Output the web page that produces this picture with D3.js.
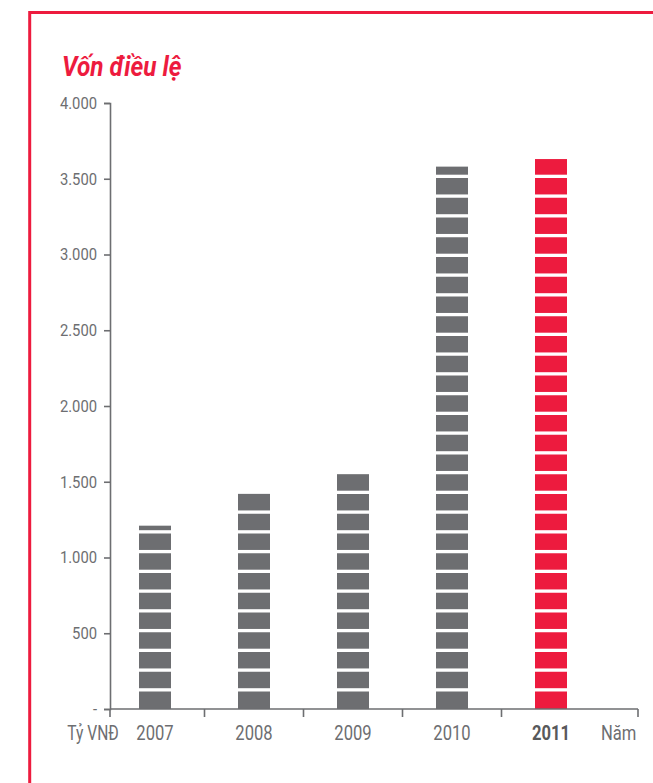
<!DOCTYPE html>
<html>
<head>
<meta charset="utf-8">
<script src="https://cdn.jsdelivr.net/npm/d3@7"></script>
<style>
  html, body { margin: 0; padding: 0; background: #fff; }
  svg { display: block; font-family: 'Roboto', 'Liberation Sans', sans-serif; }
</style>
</head>
<body>
<div id="chart"></div>
<script>
const years = ['2007', '2008', '2009', '2010', '2011'];
const capital = [1210, 1420, 1550, 3580, 3630];
const yTicks = [0, 500, 1000, 1500, 2000, 2500, 3000, 3500, 4000];
const highlightYear = '2011';

const width = 653,
  height = 783;
const red = '#ed1b3e',
  grey = '#6d6e71';

// squeeze a text horizontally around its anchor point (condensed look)
const condense = (sel, sx) =>
  sel.each(function () {
    const t = d3.select(this);
    const ax = +t.attr('x') || 0,
      ay = +t.attr('y') || 0;
    t.attr('transform', `translate(${ax},${ay}) scale(${sx},1) translate(${-ax},${-ay})`);
  });

const svg = d3
  .select('#chart')
  .append('svg')
  .attr('width', width)
  .attr('height', height);

// Frame line (left + top)
svg
  .append('path')
  .attr('d', `M29.7,${height + 5} L29.7,12.5 L${width + 5},12.5`)
  .attr('fill', 'none')
  .attr('stroke', red)
  .attr('stroke-width', 3);

svg
  .append('text')
  .attr('x', 62)
  .attr('y', 76)
  .attr('fill', red)
  .style('font-size', '28px')
  .style('font-weight', 'bold')
  .style('font-style', 'italic')
  .text('Vốn điều lệ')
  .call(condense, 0.87);

const x = d3.scaleBand().domain(years).range([105.5, 600.5]);
const y = d3.scaleLinear().domain([0, 4000]).range([709, 103]);

const vn = d3.formatLocale({ decimal: ',', thousands: '.', grouping: [3], currency: ['', ''] });
const fmt = vn.format(',');

// Y axis
const yAxis = svg
  .append('g')
  .attr('transform', 'translate(110,0)')
  .call(
    d3
      .axisLeft(y)
      .tickValues(yTicks)
      .tickSizeOuter(0)
      .tickSize(6)
      .tickPadding(7)
      .tickFormat((d) => (d === 0 ? '-' : fmt(d)))
  );
yAxis.select('.domain').attr('stroke', grey).attr('stroke-width', 1.6);
yAxis.selectAll('.tick line').attr('stroke', grey).attr('stroke-width', 1.6);
yAxis
  .selectAll('.tick text')
  .attr('fill', grey)
  .style('font-family', "'Roboto', sans-serif")
  .style('font-size', '17px')
  .call(condense, 0.87);

// Bars
const barW = 32;
const bars = svg
  .selectAll('.bar')
  .data(years)
  .enter()
  .append('g')
  .attr('class', 'bar');

bars
  .append('rect')
  .attr('x', (d) => x(d) + x.bandwidth() / 2 - barW / 2)
  .attr('width', barW)
  .attr('y', (d, i) => y(capital[i]))
  .attr('height', (d, i) => y(0) - y(capital[i]))
  .attr('fill', (d) => (d === highlightYear ? red : grey));

// White stripes cutting each bar into blocks
const step = 19.75,
  gap = 3.3,
  firstTop = y(0) - 17.5;
bars.each(function (d, i) {
  const top = y(capital[i]);
  const cuts = [];
  for (let s = firstTop; s - gap > top; s -= step) cuts.push(s);
  d3.select(this)
    .selectAll('.cut')
    .data(cuts)
    .enter()
    .append('rect')
    .attr('class', 'cut')
    .attr('x', x(d) + x.bandwidth() / 2 - barW / 2 - 1)
    .attr('width', barW + 2)
    .attr('y', (s) => s - gap)
    .attr('height', gap)
    .attr('fill', '#fff');
});

// X axis
const base = y(0);
svg
  .append('line')
  .attr('x1', 110)
  .attr('x2', 638)
  .attr('y1', base)
  .attr('y2', base)
  .attr('stroke', grey)
  .attr('stroke-width', 1.6);

const tickXs = [110].concat(years.slice(1).map((d) => x(d)), [638]);
svg
  .selectAll('.xtick')
  .data(tickXs)
  .enter()
  .append('line')
  .attr('x1', (d) => d)
  .attr('x2', (d) => d)
  .attr('y1', base)
  .attr('y2', base + 8)
  .attr('stroke', grey)
  .attr('stroke-width', 1.6);

svg
  .selectAll('.xlabel')
  .data(years)
  .enter()
  .append('text')
  .attr('x', (d) => x(d) + x.bandwidth() / 2)
  .attr('y', 740)
  .attr('text-anchor', 'middle')
  .attr('fill', (d) => (d === highlightYear ? '#58595b' : grey))
  .style('font-weight', (d) => (d === highlightYear ? 'bold' : 'normal'))
  .style('font-size', '20px')
  .text((d) => d)
  .call(condense, 0.83);

svg
  .append('text')
  .attr('x', 93)
  .attr('y', 740)
  .attr('text-anchor', 'middle')
  .attr('fill', grey)
  .style('font-size', '20px')
  .text('Tỷ VNĐ')
  .call(condense, 0.78);

svg
  .append('text')
  .attr('x', 601)
  .attr('y', 740)
  .attr('fill', grey)
  .style('font-size', '20px')
  .text('Năm')
  .call(condense, 0.83);
</script>
</body>
</html>
